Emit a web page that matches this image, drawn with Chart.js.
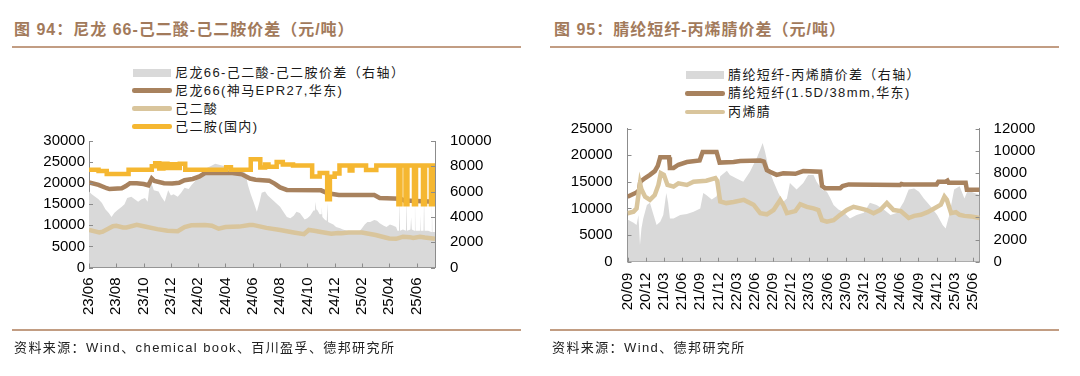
<!DOCTYPE html>
<html>
<head>
<meta charset="utf-8">
<script src="https://cdn.jsdelivr.net/npm/chart.js@4.4.1/dist/chart.umd.min.js"></script>
<style>
html,body{margin:0;padding:0;background:#fff;}
body{width:1080px;height:376px;position:relative;overflow:hidden;font-family:"Liberation Sans","Noto Sans CJK SC",sans-serif;}
.title{position:absolute;top:20px;font-size:16px;font-weight:bold;color:#a27a5b;letter-spacing:1px;white-space:nowrap;line-height:20px;}
.rule{position:absolute;height:2px;background:#c29d83;}
.legend{position:absolute;top:0;font-size:13px;color:#1a1a1a;letter-spacing:1.4px;}
.legend .item{position:absolute;left:0;height:18px;line-height:18px;white-space:nowrap;}
.legend .sym{position:absolute;top:50%;}
.legend .txt{position:absolute;left:43px;top:0;}
.source{position:absolute;top:340px;font-size:13px;color:#222;letter-spacing:1.4px;line-height:16px;white-space:nowrap;}
canvas{position:absolute;}
</style>
</head>
<body>
<div class="title" style="left:14px">图 94：尼龙 66-己二酸-己二胺价差（元/吨）</div>
<div class="rule" style="left:12px;width:509px;top:46px"></div>
<div class="legend" id="legend94" style="left:132px"></div>
<canvas id="c94" width="540" height="210" style="left:0;top:120px;width:540px;height:210px"></canvas>
<div class="rule" style="left:12px;width:509px;top:329px"></div>
<div class="source" style="left:14px">资料来源：Wind、chemical book、百川盈孚、德邦研究所</div>

<div class="title" style="left:554px">图 95：腈纶短纤-丙烯腈价差（元/吨）</div>
<div class="rule" style="left:550px;width:509px;top:46px"></div>
<div class="legend" id="legend95" style="left:685px"></div>
<canvas id="c95" width="540" height="210" style="left:540px;top:120px;width:540px;height:210px"></canvas>
<div class="rule" style="left:550px;width:509px;top:329px"></div>
<div class="source" style="left:552px">资料来源：Wind、德邦研究所</div>

<script>
// ================= 图94 data (x = months since 23/06) =================
const xTickLabels94 = ['23/06','23/08','23/10','23/12','24/02','24/04','24/06','24/08','24/10','24/12','25/02','25/04','25/06'];

const nylonMonths = [0,0.7,1.3,1.5,2.4,2.7,3.0,3.5,4.0,4.35,4.6,4.8,5.5,6.1,6.6,7.0,7.6,8.1,8.5,10.5,11.2,11.8,12.2,13.2,13.6,14.0,14.5,17.0,17.5,18.3,20.9,21.3,22.8,23.1,25.35];
const nylonPrice  = [20200,19600,18800,18600,18800,19300,20000,20000,19800,19500,21100,20500,20000,19900,20100,20700,21000,21600,22400,22400,22100,21100,20800,20600,19900,19000,18400,18300,17600,17200,17200,16500,16300,15900,15600];

const adipicMonths = [0,0.75,1.0,1.75,2.0,2.5,2.75,3.5,4.0,5.0,5.75,6.5,7.0,7.5,8.5,9.0,9.5,10.0,11.0,11.75,12.0,13.0,14.0,15.0,15.75,16.1,16.5,17.0,17.75,18.25,18.5,19.0,20.0,20.5,21.0,21.5,22.0,22.5,22.8,23.0,23.5,23.75,24.25,24.6,25.35];
const adipicPrice  = [8900,8300,8500,9800,9900,9500,9500,10100,9800,9100,8700,8600,9600,10000,10100,9900,9200,9600,9700,10100,10100,9400,8900,8300,7900,8900,8700,8400,8000,8200,8100,8300,8300,8000,7700,7300,6900,6800,7100,7300,7200,7000,7300,7100,6800];

const hmdaMonths = [0,0.7,1.3,2.9,4.6,4.85,5.15,5.45,5.75,6.05,6.35,6.65,7.05,10.05,10.4,11.85,12.55,12.9,13.15,13.75,14.2,14.95,16.35,16.9,17.45,17.65,18.0,18.35,19.1,19.3,20.3,21.05,22.67,22.82,23.19,23.33,23.81,23.96,24.47,24.62,25.05,25.2,25.35];
const hmdaPrice  = [23200,22900,22200,23200,24000,24700,23500,24600,23600,24500,23600,24600,23200,23800,23200,25700,23700,24400,23900,25000,24400,24200,21600,22400,16200,21500,22300,24200,23000,24200,23100,24200,15000,24200,15000,24200,15000,24200,15000,24200,15000,24200,24200];

const spread94Months = [0,0.2,0.45,0.7,0.95,1.2,1.45,1.65,1.85,2.05,2.4,2.6,2.8,3.1,3.35,3.6,3.85,4.1,4.3,4.47,4.6,4.75,5.1,5.3,5.55,5.8,6.0,6.2,6.5,6.75,7.0,7.3,7.5,7.75,8.0,8.25,8.5,8.9,9.25,9.6,10.0,10.3,10.7,11.1,11.45,11.65,11.85,12.05,12.3,12.5,12.65,12.9,13.1,13.3,13.6,14.0,14.3,14.5,14.75,15.0,15.2,15.45,15.8,16.0,16.2,16.45,16.55,16.6,16.65,16.75,16.9,17.0,17.05,17.1,17.3,17.42,17.47,17.52,17.7,17.9,18.1,18.4,18.6,18.9,19.1,19.5,19.85,20.0,20.2,20.4,20.6,20.9,21.1,21.3,21.6,21.8,22.05,22.3,22.5,22.6,22.71,22.75,22.79,23.0,23.22,23.26,23.3,23.55,23.6,23.65,23.84,23.88,23.92,24.2,24.25,24.3,24.51,24.55,24.59,24.85,25.08,25.12,25.16,25.35];
const spread94 = [6000,5800,5600,5400,5100,4600,4300,4000,4300,4500,4800,5000,5500,5600,5400,5200,5400,5500,5200,6800,6600,6100,6000,5600,5200,6100,5700,5800,5600,5900,6300,6200,6500,6800,7100,7400,7800,8000,8200,8100,8000,7900,7800,7700,7500,6500,5800,5200,4400,5200,5900,6000,5700,5500,5200,4800,4300,4000,3900,4100,4400,4300,3800,3900,4100,4500,4500,5200,4600,4500,4200,4200,4800,4000,3750,3700,5100,3600,3500,3400,3200,3100,3000,2900,2800,2800,2900,3100,3400,3600,3600,3750,3700,3500,3300,3200,3400,3300,3200,2900,2900,5400,2900,3000,2900,5500,2900,3000,4000,3000,2900,5400,2900,2900,4200,2900,2900,5500,2900,2900,2800,5300,2800,2800];

// ================= 图95 data (x = months since 20/09) =================
const xTickLabels95 = ['20/09','20/12','21/03','21/06','21/09','21/12','22/03','22/06','22/09','22/12','23/03','23/06','23/09','23/12','24/03','24/06','24/09','24/12','25/03','25/06'];

const fiberMonths = [0,1.5,1.9,2.1,2.9,3.7,4.5,5.0,5.4,6.85,7.0,7.6,8.4,9.8,11.9,12.4,14.7,15.2,17.5,18.6,21.9,22.5,23.0,23.5,24.6,25.7,27.7,28.5,29.0,31.8,32.1,32.6,35.1,35.5,36.5,45.0,45.2,45.5,51.0,51.3,52.5,52.8,53.0,55.8,56.0,58.1];
const fiberPrice  = [12200,13000,13400,15000,15700,16300,17000,18000,19600,19600,17600,17600,18200,18700,19000,20600,20600,18600,18700,18900,19000,18800,17200,16900,16300,16600,16500,16800,17000,16900,14200,13800,13800,14200,14500,14400,14600,14500,14500,15000,15000,15200,14800,14800,13500,13500];

const acnMonths = [0,1.0,1.5,1.8,2.06,2.3,2.9,3.7,4.5,5.1,5.5,6.0,6.6,7.6,8.4,9.8,10.9,13.0,14.5,14.8,15.3,16.3,17.5,19.2,20.8,21.9,23.0,24.1,25.2,25.7,26.3,27.7,28.5,29.6,30.7,31.5,32.1,32.9,34.0,35.1,36.2,37.3,38.4,39.5,40.6,41.7,42.8,43.9,45.1,46.4,47.3,48.4,49.5,50.6,51.7,52.3,52.7,53.4,54.2,54.8,55.6,56.7,58.1];
const acnPrice  = [9100,9400,10000,12500,14700,13600,12200,11600,12500,14400,16600,16300,14400,14100,14700,14400,15000,15200,15700,15200,11300,11000,11200,11600,10700,9100,8900,9700,11600,10700,9100,9500,10800,10300,10000,9700,7800,7500,7800,8800,9700,10300,10000,9700,9100,9700,11000,9700,9500,8200,8600,8800,9300,10000,10700,12200,11600,9100,9300,8800,8600,8500,8200];

const spread95Months = [0,1.0,1.5,1.8,2.06,2.3,2.6,3.2,3.7,4.3,4.8,5.4,5.9,6.4,6.7,7.0,7.6,8.7,9.8,10.9,12.0,12.5,13.0,13.9,14.7,15.3,16.4,16.9,18.0,19.1,20.2,21.3,21.9,22.3,22.7,23.3,24.1,24.9,25.7,26.3,26.8,27.9,29.0,29.8,30.7,31.2,32.1,32.9,33.5,34.0,34.8,35.6,36.7,37.8,39.0,40.0,41.1,42.3,43.4,44.5,45.6,46.4,47.3,48.1,48.9,50.0,51.1,52.0,52.5,53.1,53.9,54.8,55.6,56.2,56.7,58.1];
const spread95 = [3800,3500,3300,4200,1500,3000,3900,5100,5300,4200,3300,3600,4200,6200,5300,3900,3900,4200,4300,4500,4800,6200,6000,5600,5900,7700,8200,7800,7500,7200,8100,9300,10100,10700,9900,8400,7200,6200,5400,5700,7100,6500,7100,7800,7800,7200,6500,6300,5700,5100,4700,4500,3900,4200,4400,5300,5100,4700,4200,4400,5400,6500,6600,6300,5700,5000,4200,3300,3000,4200,6500,6800,5700,6500,6300,6000];

// ================= styles =================
const BROWN = '#a8825e', BEIGE = '#d9c59c', YELLOW = '#f5b731', GRAY = '#d9d9d9', AXIS = '#8c8c8c';
const TICK_FONT = { family: "'Liberation Sans', Arial, sans-serif", size: 15, lineHeight: 1 };

function pts(ms, vs) { return ms.map((m, i) => ({ x: m, y: vs[i] })); }
function monthOf(label, base) {
  const [y, m] = label.split('/').map(Number);
  const [by, bm] = base.split('/').map(Number);
  return (y - by) * 12 + (m - bm);
}

const innerTicks = {
  id: 'innerTicks',
  afterDraw(chart) {
    const { ctx, chartArea: a } = chart;
    ctx.save();
    ctx.strokeStyle = AXIS; ctx.lineWidth = 1;
    ctx.beginPath();
    Object.values(chart.scales).forEach(s => {
      s.ticks.forEach(t => {
        const p = Math.round(s.getPixelForValue(t.value)) + 0.5;
        if (s.axis === 'x') { ctx.moveTo(p, a.bottom); ctx.lineTo(p, a.bottom - 4); }
        else if (s.position === 'left') { ctx.moveTo(a.left, p); ctx.lineTo(a.left + 4, p); }
        else { ctx.moveTo(a.right, p); ctx.lineTo(a.right - 4, p); }
      });
    });
    ctx.stroke();
    ctx.restore();
  }
};

function makeChart(id, cfg) {
  const xLabels = cfg.xLabels, base = xLabels[0];
  const fixV = w => s => { s.width = w; s.paddingTop = 0; s.paddingBottom = 0; };
  return new Chart(document.getElementById(id), {
    type: 'line',
    data: { datasets: cfg.datasets },
    options: {
      responsive: false, animation: false, events: [],
      layout: { padding: { top: cfg.padTop, left: 0, right: 0, bottom: 0 } },
      plugins: { legend: { display: false }, tooltip: { enabled: false } },
      elements: { point: { radius: 0 }, line: { tension: 0 } },
      scales: {
        x: {
          type: 'linear', min: 0, max: cfg.xMax, z: 1,
          grid: { display: false, drawTicks: false },
          border: { display: true, color: AXIS, width: 1 },
          afterBuildTicks: s => { s.ticks = xLabels.map(l => ({ value: monthOf(l, base) })); },
          afterFit: s => { s.height = cfg.xHeight; s.paddingLeft = 0; s.paddingRight = 0; },
          ticks: {
            autoSkip: false, maxRotation: 90, minRotation: 90, padding: cfg.xPad,
            color: '#000', font: TICK_FONT,
            callback: v => { const l = xLabels.find(t => monthOf(t, base) === v); return l || ''; }
          }
        },
        y: {
          position: 'left', min: 0, max: cfg.yMax, z: 1,
          grid: { display: false, drawTicks: false },
          border: { display: true, color: AXIS, width: 1 },
          afterFit: fixV(cfg.yWidth),
          ticks: { stepSize: cfg.yStep, padding: cfg.yPad, color: '#000', font: TICK_FONT, callback: v => String(v) }
        },
        y1: {
          position: 'right', min: 0, max: cfg.y1Max, z: 1,
          grid: { display: false, drawTicks: false },
          border: { display: true, color: AXIS, width: 1 },
          afterFit: fixV(cfg.y1Width),
          ticks: { stepSize: cfg.y1Step, padding: cfg.y1Pad, color: '#000', font: TICK_FONT, callback: v => String(v) }
        }
      }
    },
    plugins: [innerTicks]
  });
}

function areaSet(label, ms, vs) {
  return { label, data: pts(ms, vs), yAxisID: 'y1', fill: 'origin', backgroundColor: GRAY,
           borderColor: GRAY, borderWidth: 0, pointRadius: 0, order: 4, _area: true };
}
function lineSet(label, ms, vs, color, order, stepped) {
  return { label, data: pts(ms, vs), yAxisID: 'y', borderColor: color, backgroundColor: color,
           borderWidth: 4.5, pointRadius: 0, fill: false, order, stepped: !!stepped };
}

function buildLegend(elId, chart, firstY, step) {
  const el = document.getElementById(elId);
  chart.data.datasets.forEach((ds, i) => {
    const item = document.createElement('div');
    item.className = 'item';
    item.style.top = (firstY + i * step - 9) + 'px';
    const sym = document.createElement('div');
    sym.className = 'sym';
    if (ds._area) {
      Object.assign(sym.style, { left: '1px', width: '38px', height: '8px', marginTop: '-4px', background: GRAY });
    } else {
      Object.assign(sym.style, { left: '0px', width: '40px', height: '4.5px', marginTop: '-2.25px', background: ds.borderColor, borderRadius: '2.25px' });
    }
    const txt = document.createElement('span');
    txt.className = 'txt';
    txt.textContent = ds.label;
    item.appendChild(sym); item.appendChild(txt);
    el.appendChild(item);
  });
}

const chart94 = makeChart('c94', {
  xLabels: xTickLabels94, xMax: 25.35, padTop: 21, xHeight: 62.5, xPad: 10,
  yMax: 30000, yStep: 5000, yWidth: 89, yPad: 4,
  y1Max: 10000, y1Step: 2000, y1Width: 105, y1Pad: 15,
  datasets: [
    areaSet('尼龙66-己二酸-己二胺价差（右轴）', spread94Months, spread94),
    lineSet('尼龙66(神马EPR27,华东)', nylonMonths, nylonPrice, BROWN, 3),
    lineSet('己二酸', adipicMonths, adipicPrice, BEIGE, 2),
    lineSet('己二胺(国内)', hmdaMonths, hmdaPrice, YELLOW, 1, true)
  ]
});

const chart95 = makeChart('c95', {
  xLabels: xTickLabels95, xMax: 58.1, padTop: 8.5, xHeight: 68.3, xPad: 11,
  yMax: 25000, yStep: 5000, yWidth: 87.5, yPad: 15,
  y1Max: 12000, y1Step: 2000, y1Width: 100.4, y1Pad: 14,
  datasets: [
    areaSet('腈纶短纤-丙烯腈价差（右轴）', spread95Months, spread95),
    lineSet('腈纶短纤(1.5D/38mm,华东)', fiberMonths, fiberPrice, BROWN, 3),
    lineSet('丙烯腈', acnMonths, acnPrice, BEIGE, 2)
  ]
});

buildLegend('legend94', chart94, 72.7, 18);
buildLegend('legend95', chart95, 75, 18.4);
</script>
</body>
</html>
